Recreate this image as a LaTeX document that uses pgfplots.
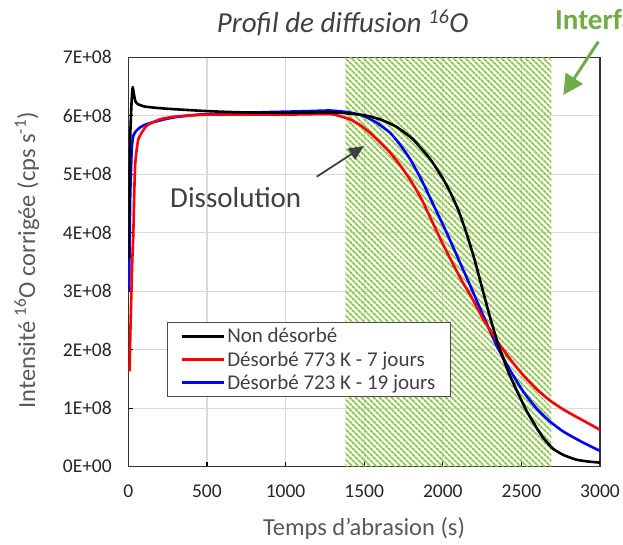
\documentclass[border=0pt]{standalone}
\usepackage{pgfplots}
\pgfplotsset{compat=1.18}
\usepackage{fontspec}
\setmainfont{Carlito}
\usetikzlibrary{patterns.meta,arrows.meta}
\definecolor{txt}{HTML}{595959}
\definecolor{dtxt}{HTML}{404040}
\definecolor{hatch}{HTML}{8CC84B}
\definecolor{igreen}{HTML}{70AD47}
\definecolor{gridc}{HTML}{D9D9D9}
\begin{document}
\begin{tikzpicture}[x=1pt,y=1pt]
\path[use as bounding box] (0,0) rectangle (623,544);
\begin{axis}[
  at={(128.3pt,77.3pt)}, anchor=south west,
  scale only axis, width=471.7pt, height=409.4pt,
  xmin=0, xmax=3000, ymin=0, ymax=7e8,
  xtick={0,500,1000,1500,2000,2500,3000},
  ytick={0,1e8,2e8,3e8,4e8,5e8,6e8,7e8},
  yticklabels={0E+00,1E+08,2E+08,3E+08,4E+08,5E+08,6E+08,7E+08},
  scaled y ticks=false,
  /pgf/number format/assume math mode=true,
  /pgf/number format/1000 sep={},
  grid=major, major grid style={draw=gridc, line width=1.2pt},
  tick align=inside, tick pos=left, major tick length=5pt,
  tick style={black, line width=1.2pt},
  axis line style={black!80, line width=1.2pt},
  ticklabel style={font=\fontsize{19.5}{22}\selectfont, text=black!85},
  yticklabel style={xshift=-13pt},
  xticklabel style={yshift=-15pt},
  legend style={at={(0.0814,0.354)}, anchor=north west, draw=black!70, line width=1.2pt,
    font=\fontsize{21}{24}\selectfont, text=dtxt, inner xsep=13pt, inner ysep=4pt,
    nodes={inner sep=2pt}, row sep=3pt},
  legend cell align=left,
  legend image code/.code={\draw[#1, line width=3pt] (0pt,0pt) -- (42pt,0pt);},
  clip=true,
]
\addlegendimage{black}
\addlegendentry{Non désorbé}
\addlegendimage{red}
\addlegendentry{Désorbé 773 K - 7 jours}
\addlegendimage{blue}
\addlegendentry{Désorbé 723 K - 19 jours}

\addplot[draw=none, pattern={Lines[angle=-45, distance=4pt, line width=2pt]}, pattern color=hatch, forget plot]
  coordinates {(1380,0) (1380,7e8) (2690,7e8) (2690,0)} \closedcycle;

\addplot[blue, line width=2.6pt, line join=round, smooth, tension=0.3, forget plot] coordinates {
(5,3.0e8) (12,4.6e8) (22,5.43e8) (32,5.66e8) (50,5.74e8) (74,5.8e8) (110,5.85e8) (159,5.89e8) (230,5.94e8) (308,5.98e8) (450,6.02e8) (650,6.04e8) (850,6.06e8) (1000,6.07e8) (1150,6.08e8) (1282,6.09e8) (1400,6.06e8) (1495,6.0e8) (1580,5.88e8) (1665,5.71e8) (1730,5.5e8) (1792,5.26e8) (1860,4.93e8) (1919,4.6e8) (1970,4.31e8) (2025,4.0e8) (2080,3.67e8) (2131,3.36e8) (2174,3.1e8) (2258,2.58e8) (2343,2.07e8) (2428,1.65e8) (2513,1.28e8) (2598,0.99e8) (2683,0.77e8) (2767,0.6e8) (2880,0.43e8) (3000,0.27e8)
};
\addplot[red, line width=2.6pt, line join=round, smooth, tension=0.3, forget plot] coordinates {
(8,1.63e8) (15,2.5e8) (25,3.5e8) (32,4.0e8) (43,5.14e8) (64,5.6e8) (117,5.83e8) (202,5.94e8) (308,5.99e8) (500,6.02e8) (700,6.02e8) (1000,6.02e8) (1282,6.03e8) (1350,5.99e8) (1410,5.94e8) (1475,5.84e8) (1537,5.71e8) (1600,5.55e8) (1665,5.37e8) (1730,5.15e8) (1792,4.91e8) (1860,4.6e8) (1919,4.27e8) (1980,3.92e8) (2047,3.56e8) (2121,3.18e8) (2174,2.94e8) (2258,2.52e8) (2343,2.16e8) (2428,1.84e8) (2513,1.56e8) (2598,1.32e8) (2683,1.13e8) (2760,0.99e8) (2831,0.88e8) (2920,0.75e8) (3000,0.63e8)
};
\addplot[black, line width=2.6pt, line join=round, smooth, tension=0.3, forget plot] coordinates {
(2,3.55e8) (12,5.6e8) (22,6.3e8) (28,6.49e8) (35,6.38e8) (45,6.25e8) (60,6.2e8) (100,6.16e8) (160,6.14e8) (250,6.12e8) (370,6.1e8) (500,6.08e8) (700,6.06e8) (1000,6.05e8) (1280,6.06e8) (1400,6.04e8) (1500,6.01e8) (1600,5.94e8) (1700,5.82e8) (1810,5.6e8) (1920,5.26e8) (2000,4.93e8) (2050,4.68e8) (2100,4.38e8) (2150,4.0e8) (2200,3.56e8) (2250,3.06e8) (2300,2.56e8) (2354,2.08e8) (2417,1.62e8) (2471,1.3e8) (2534,0.95e8) (2598,0.66e8) (2640,0.49e8) (2700,0.31e8) (2767,0.2e8) (2850,0.12e8) (2920,0.09e8) (3000,0.07e8)
};
\end{axis}
% titles and labels
\node[anchor=base west, inner sep=0pt, text=dtxt, font=\fontsize{29}{32}\selectfont\itshape] at (216.7,511) {Profil de diffusion \textsuperscript{16}O};
\node[anchor=base west, inner sep=0pt, text=igreen, font=\fontsize{29}{32}\selectfont\bfseries] at (555,514) {Interface};
\draw[igreen, line width=3pt, -{Triangle[length=20pt,width=20pt]}] (598.3,502.3) -- (563.3,449);
\node[anchor=base west, inner sep=0pt, text=dtxt, font=\fontsize{29}{32}\selectfont] at (170,336.7) {Dissolution};
\draw[dtxt, line width=1.8pt, -{Triangle[length=15pt,width=13pt]}] (316.7,367.3) -- (364,398);
\node[anchor=base, inner sep=0pt, text=txt, font=\fontsize{24.5}{28}\selectfont] at (364,9) {Temps d’abrasion (s)};
\node[anchor=base, inner sep=0pt, rotate=90, text=txt, font=\fontsize{24.5}{28}\selectfont] at (35,283.5) {Intensité \textsuperscript{16}O corrigée (cps s\textsuperscript{-1})};
\end{tikzpicture}
\end{document}
